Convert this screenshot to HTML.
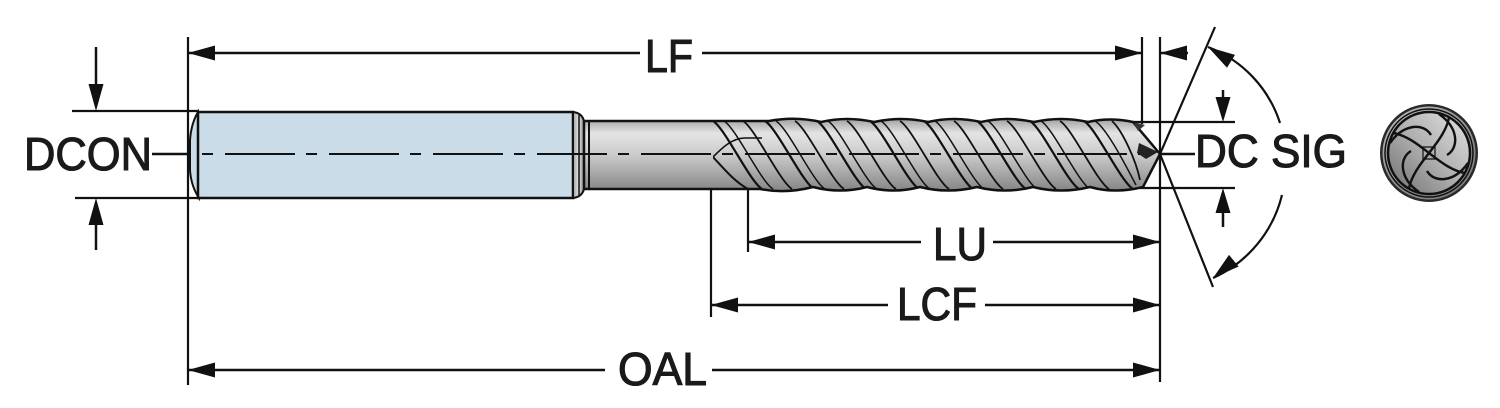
<!DOCTYPE html>
<html>
<head>
<meta charset="utf-8">
<style>
  html,body{margin:0;padding:0;background:#fff;}
  svg{display:block;}
  text{font-family:"Liberation Sans",Arial,sans-serif;fill:#1a1a1a;stroke:#1a1a1a;stroke-width:1.1px;}
</style>
</head>
<body>
<svg width="1500" height="408" viewBox="0 0 1500 408" xmlns="http://www.w3.org/2000/svg">
  <defs>
    <linearGradient id="metal" x1="0" y1="0" x2="0" y2="1">
      <stop offset="0" stop-color="#a0a0a0"/>
      <stop offset="0.2" stop-color="#e4e4e4"/>
      <stop offset="0.5" stop-color="#cbcbcb"/>
      <stop offset="1" stop-color="#858585"/>
    </linearGradient>
    <linearGradient id="shoulder" x1="0" y1="0" x2="1" y2="0">
      <stop offset="0" stop-color="#a0a0a0"/>
      <stop offset="0.5" stop-color="#e0e0e0"/>
      <stop offset="1" stop-color="#909090"/>
    </linearGradient>
    <linearGradient id="endg" x1="1" y1="0" x2="0" y2="1">
      <stop offset="0" stop-color="#e4e4e4"/>
      <stop offset="0.5" stop-color="#b0b0b0"/>
      <stop offset="1" stop-color="#6e6e6e"/>
    </linearGradient>
    <radialGradient id="ringg" cx="0.4" cy="0.35" r="0.7">
      <stop offset="0" stop-color="#e2e2e2"/>
      <stop offset="1" stop-color="#7a7a7a"/>
    </radialGradient>
    <clipPath id="bodyclip">
      <path d="M713,110 L1170,110 L1170,200 L713,200 Z"/>
    </clipPath>
    <clipPath id="bodyshape">
      <path d="M584,121 L769,121 Q795,116 821,122 Q847,116 874,122 Q901,116 928,122 Q954,116 981,122 Q1007,116 1034,122 Q1061,116 1088,122 Q1110,117 1133,122 L1160,154 L1143,187 Q1115,194 1090,187 Q1061,194 1033,187 Q1005,194 977,187 Q948,194 920,187 Q893,194 867,187 Q840,194 813,187 Q786,194 760,189 L584,189 Z"/>
    </clipPath>
  </defs>

  <!-- Shank -->
  <path d="M198,112 Q191,124 190,140 L190,170 Q191,186 199,198 Z" fill="#c9dce7" stroke="#111" stroke-width="2"/>
  <rect x="198" y="112" width="375" height="86" fill="#c9dce7" stroke="#111" stroke-width="2.5"/>

  <!-- Shoulder -->
  <path d="M573,112 Q582,113 584,121 L584,189 Q582,197 573,198 Z" fill="url(#shoulder)" stroke="#111" stroke-width="2"/>
  <line x1="579" y1="115" x2="579" y2="195" stroke="#111" stroke-width="1.5"/>

  <!-- Neck + fluted body -->
  <path d="M584,121 L769,121 Q795,116 821,122 Q847,116 874,122 Q901,116 928,122 Q954,116 981,122 Q1007,116 1034,122 Q1061,116 1088,122 Q1110,117 1133,122 L1160,154 L1143,187 Q1115,194 1090,187 Q1061,194 1033,187 Q1005,194 977,187 Q948,194 920,187 Q893,194 867,187 Q840,194 813,187 Q786,194 760,189 L584,189 Z" fill="url(#metal)" stroke="#111" stroke-width="2.5"/>
  <line x1="589" y1="121" x2="589" y2="189" stroke="#111" stroke-width="2"/>

  <!-- Helix lines -->
  <g clip-path="url(#bodyshape)">
   <g clip-path="url(#bodyclip)" fill="none" stroke="#111">
    <path d="M713,157 C725,170 735,182 748,189" stroke-width="2"/>
    <path d="M713,157 C722,148 732,138 745,138 L762,138" stroke-width="1.6"/>
    <g stroke-width="2.2">
      <path d="M713,121 C725,128 750,182 762,189"/>
      <path d="M765,121 C777,128 802,182 814,189"/>
      <path d="M817,121 C829,128 854,182 866,189"/>
      <path d="M870,121 C882,128 907,182 919,189"/>
      <path d="M924,121 C936,128 961,182 973,189"/>
      <path d="M977,121 C989,128 1014,182 1026,189"/>
      <path d="M1030,121 C1042,128 1067,182 1079,189"/>
      <path d="M1084,121 C1096,128 1121,182 1133,189"/>
    </g>
    <g stroke-width="1.5">
      <path d="M724,121 C736,128 761,182 773,189"/>
      <path d="M776,121 C788,128 813,182 825,189"/>
      <path d="M828,121 C840,128 865,182 877,189"/>
      <path d="M881,121 C893,128 918,182 930,189"/>
      <path d="M935,121 C947,128 972,182 984,189"/>
      <path d="M988,121 C1000,128 1025,182 1037,189"/>
      <path d="M1041,121 C1053,128 1078,182 1090,189"/>
      <path d="M1095,121 C1107,128 1128,170 1136,185"/>
    </g>
    <g stroke-width="1.8">
      <path d="M743,121 C755,128 780,182 792,189"/>
      <path d="M795,121 C807,128 832,182 844,189"/>
      <path d="M847,121 C859,128 884,182 896,189"/>
      <path d="M900,121 C912,128 937,182 949,189"/>
      <path d="M954,121 C966,128 991,182 1003,189"/>
      <path d="M1007,121 C1019,128 1044,182 1056,189"/>
      <path d="M1060,121 C1072,128 1097,182 1109,189"/>
      <path d="M1112,121 C1122,130 1136,160 1140,180"/>
    </g>
   </g>
  </g>
  <polygon points="1139,143 1158,152 1146,159 1137,153" fill="#222"/>
  <polygon points="1133,122 1145,125 1138,131" fill="#333"/>

  <!-- Centerline -->
  <line x1="202" y1="154" x2="1140" y2="154" stroke="#111" stroke-width="2" stroke-dasharray="11 12 70 11"/>

  <!-- Extension lines -->
  <g stroke="#111" stroke-width="2.2" fill="none">
    <line x1="188" y1="37" x2="188" y2="385"/>
    <line x1="1160" y1="37" x2="1160" y2="382"/>
    <line x1="1142" y1="37" x2="1142" y2="124"/>
    <line x1="72" y1="111" x2="198" y2="111"/>
    <line x1="75" y1="198" x2="200" y2="198"/>
    <line x1="1133" y1="122" x2="1235" y2="122"/>
    <line x1="1140" y1="188" x2="1235" y2="188"/>
    <line x1="711" y1="189" x2="711" y2="317"/>
    <line x1="748" y1="189" x2="748" y2="252"/>
  </g>

  <!-- Dimension lines -->
  <g stroke="#111" stroke-width="2.5" fill="none">
    <line x1="188" y1="53" x2="640" y2="53"/>
    <line x1="702" y1="53" x2="1142" y2="53"/>
    <line x1="1160" y1="53" x2="1188" y2="53"/>
    <line x1="96" y1="47" x2="96" y2="100"/>
    <line x1="96" y1="210" x2="96" y2="250"/>
    <line x1="152" y1="154" x2="188" y2="154"/>
    <line x1="1223" y1="90" x2="1223" y2="110"/>
    <line x1="1223" y1="200" x2="1223" y2="227"/>
    <line x1="1160" y1="154" x2="1195" y2="154"/>
    <line x1="748" y1="242" x2="921" y2="242"/>
    <line x1="993" y1="242" x2="1160" y2="242"/>
    <line x1="711" y1="305" x2="888" y2="305"/>
    <line x1="985" y1="305" x2="1160" y2="305"/>
    <line x1="188" y1="370" x2="605" y2="370"/>
    <line x1="712" y1="370" x2="1160" y2="370"/>
  </g>
  <!-- SIG lines and arcs -->
  <g stroke="#111" stroke-width="2.2" fill="none">
    <line x1="1215" y1="27" x2="1160" y2="154"/>
    <line x1="1160" y1="154" x2="1213" y2="287"/>
    <path d="M1208,47 A121,121 0 0 1 1280,123"/>
    <path d="M1282,195 A123,123 0 0 1 1213,278"/>
  </g>

  <!-- Arrowheads -->
  <g fill="#111">
    <polygon points="188,53 215,45.5 215,60.5"/>
    <polygon points="1142,53 1115,45.5 1115,60.5"/>
    <polygon points="1160,53 1187,45.5 1187,60.5"/>
    <polygon points="96,111 88.5,84 103.5,84"/>
    <polygon points="96,198 88.5,225 103.5,225"/>
    <polygon points="1223,122 1215.5,97 1230.5,97"/>
    <polygon points="1223,188 1215.5,213 1230.5,213"/>
    <polygon points="748,242 775,234.5 775,249.5"/>
    <polygon points="1160,242 1133,234.5 1133,249.5"/>
    <polygon points="711,305 738,297.5 738,312.5"/>
    <polygon points="1160,305 1133,297.5 1133,312.5"/>
    <polygon points="188,370 215,362.5 215,377.5"/>
    <polygon points="1160,370 1133,362.5 1133,377.5"/>
    <polygon points="1208,47 1235,54.9 1227,67.7"/>
    <polygon points="1213,278 1238.6,266.5 1229,254.9"/>
  </g>

  <!-- Labels -->
  <g font-size="46">
    <text x="645" y="72" textLength="48" lengthAdjust="spacingAndGlyphs">LF</text>
    <text x="24" y="170" textLength="128" lengthAdjust="spacingAndGlyphs">DCON</text>
    <text x="1195" y="167" textLength="152" lengthAdjust="spacingAndGlyphs">DC SIG</text>
    <text x="933" y="260" textLength="54" lengthAdjust="spacingAndGlyphs">LU</text>
    <text x="897" y="320" textLength="80" lengthAdjust="spacingAndGlyphs">LCF</text>
    <text x="618" y="385" textLength="89" lengthAdjust="spacingAndGlyphs">OAL</text>
  </g>

  <!-- End view -->
  <g>
    <circle cx="1429" cy="153" r="49" fill="#2a2a2a"/>
    <circle cx="1429" cy="153" r="46.5" fill="url(#ringg)"/>
    <circle cx="1429" cy="153" r="44" fill="none" stroke="#111" stroke-width="1.5"/>
    <circle cx="1429" cy="153" r="41" fill="url(#endg)" stroke="#111" stroke-width="2.5"/>
    <g transform="translate(1429,153)" fill="none" stroke="#111" stroke-width="2.4">
      <g>
        <path d="M0,0 C6,-8 18,-22 20,-36"/>
        <path d="M-39,-10 C-25,-30 -5,-30 2,-18"/>
      </g>
      <g transform="rotate(90)">
        <path d="M0,0 C6,-8 18,-22 20,-36"/>
        <path d="M-39,-10 C-25,-30 -5,-30 2,-18"/>
      </g>
      <g transform="rotate(180)">
        <path d="M0,0 C6,-8 18,-22 20,-36"/>
        <path d="M-39,-10 C-25,-30 -5,-30 2,-18"/>
      </g>
      <g transform="rotate(270)">
        <path d="M0,0 C6,-8 18,-22 20,-36"/>
        <path d="M-39,-10 C-25,-30 -5,-30 2,-18"/>
      </g>
      <path d="M-6,-6 L6,-6 L6,6 L-6,6 Z" stroke-width="1.2"/>
    </g>
  </g>
</svg>
</body>
</html>
